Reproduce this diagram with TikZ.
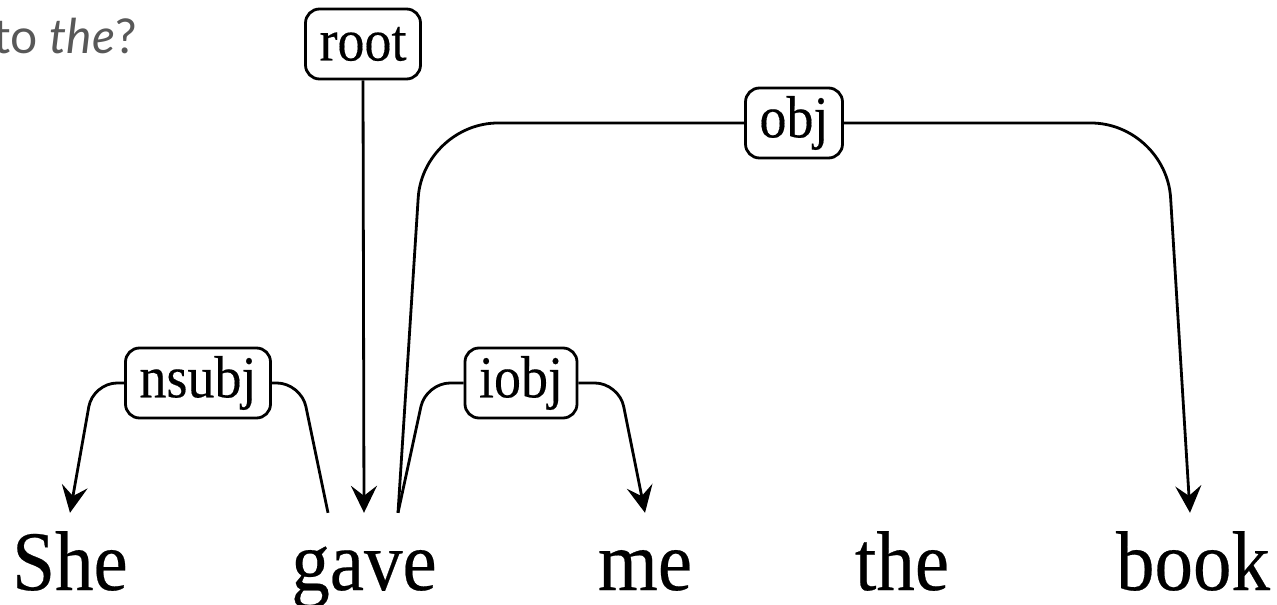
\documentclass[tikz,border=0pt]{standalone}
\usepackage{fontspec}
\usepackage{graphicx}
\usetikzlibrary{arrows.meta}
\newfontfamily\wordfont[FakeBold=0.3]{Liberation Serif}
\newfontfamily\latofont{Lato}
% slightly tall lettering
\newcommand{\tallset}[1]{\scalebox{1}[1.1]{#1}}
\definecolor{qgray}{RGB}{88,88,88}

\begin{document}
\begin{tikzpicture}[x=1pt,y=-1pt,
  word/.style={anchor=base, inner sep=0pt,
    text height=77pt, text depth=0pt,
    font=\wordfont\fontsize{77}{80}\selectfont},
  rel/.style={draw, line width=2.8pt, rounded corners=14pt,
    inner xsep=14pt, inner ysep=4pt, minimum height=70pt, fill=white,
    font=\wordfont\fontsize{54}{60}\selectfont},
  dep/.style={line width=2.8pt, rounded corners=#1},
  dep/.default=24pt,
  deptip/.style={-{Stealth[length=27pt,width=26pt,inset=10pt]}}
]
\useasboundingbox (0,0) rectangle (1277,605);

% question fragment, cut at the left edge
\node[anchor=base east, inner sep=0pt, text=qgray,
  font=\latofont\fontsize{48}{54}\selectfont] (question) at (137,53)
  {to \textit{the}?};

% sentence
\node[word] (she)  at (70,590)   {\tallset{She}};
\node[word] (gave) at (364,590)  {\tallset{gave}};
\node[word] (me)   at (645,590)  {\tallset{me}};
\node[word] (the)  at (902,590)  {\tallset{the}};
\node[word] (book) at (1193,590) {\tallset{book}};

% relation labels
\node[rel] (lroot)  at (363,44)  {\tallset{root}};
\node[rel] (lnsubj) at (198,383) {\tallset{nsubj}};
\node[rel] (liobj)  at (521,383) {\tallset{iobj}};
\node[rel] (lobj)   at (794,123) {\tallset{obj}};

% root
\draw[dep, deptip] (lroot.south) -- (gave.north);

% nsubj: gave -> She
\draw[dep] ([xshift=-36pt]gave.north) -- (301,383) -- (lnsubj.east);
\draw[dep, deptip] (lnsubj.west) -- (93,383) -- (she.north);

% iobj: gave -> me
\draw[dep] ([xshift=34pt]gave.north) -- (426,383) -- (liobj.west);
\draw[dep, deptip] (liobj.east) -- (619,383) -- (me.north);

% obj: gave -> book
\draw[dep=75pt] ([xshift=34pt]gave.north) -- (423,123) -- (lobj.west);
\draw[dep=75pt, deptip] (lobj.east) -- (1166,123) -- ([xshift=-3pt]book.north);
\end{tikzpicture}
\end{document}
